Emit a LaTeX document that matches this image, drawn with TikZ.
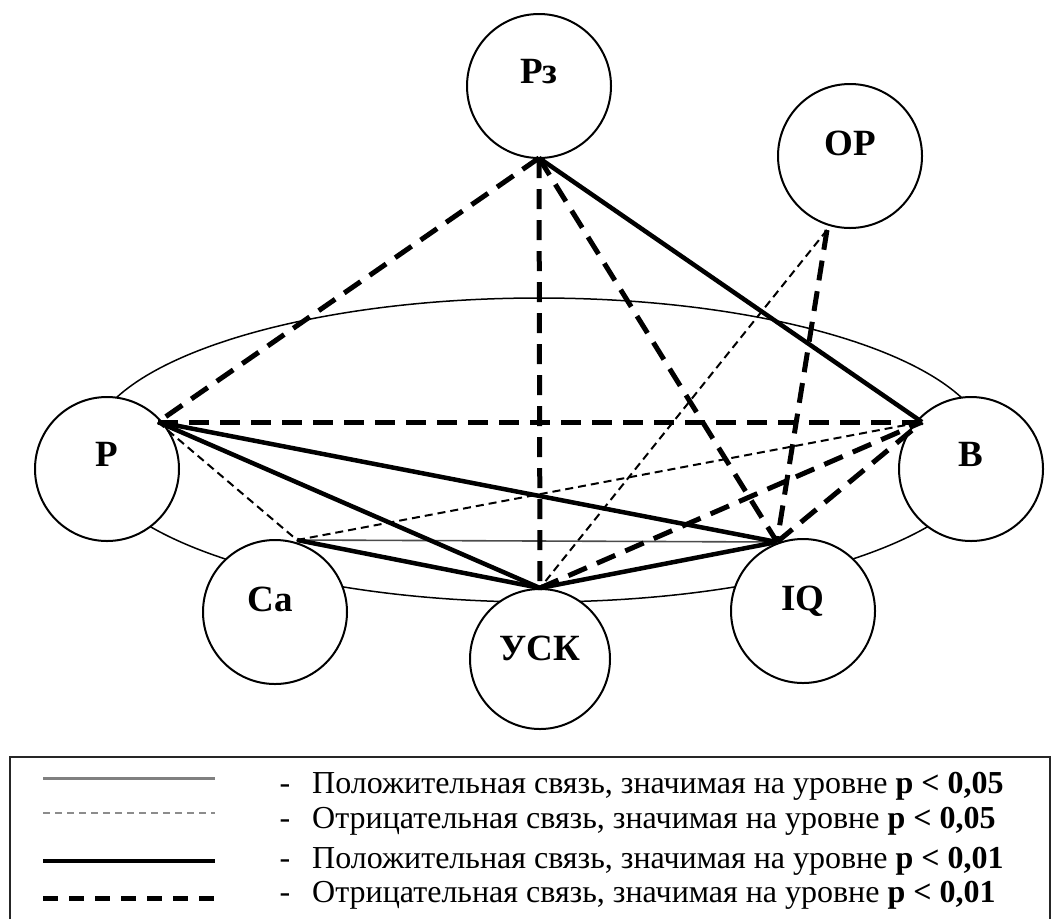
\documentclass[tikz,border=0pt]{standalone}
\usepackage{fontspec}
\setmainfont{Liberation Serif}
\begin{document}
\begin{tikzpicture}[x=1pt,y=-1pt,
  circ/.style={circle, draw, line width=2pt, fill=white, minimum size=144pt, inner sep=0pt},
  lab/.style={font=\fontsize{37}{42}\selectfont\bfseries, inner sep=0pt, anchor=base},
  posA/.style={line width=1.6pt, draw=black!70},
  negA/.style={line width=2pt, dash pattern=on 8pt off 5pt},
  posB/.style={line width=4.5pt},
  negB/.style={line width=5pt, dash pattern=on 20pt off 11pt},
  legtxt/.style={font=\fontsize{32}{38}\selectfont, inner sep=0pt, anchor=base west},
  legdash/.style={font=\fontsize{32}{38}\selectfont, inner sep=0pt, anchor=base}
]
\useasboundingbox (0,0) rectangle (1056,919);

% big ellipse
\draw[line width=1.5pt] (539,450) ellipse [x radius=450, y radius=152];

% circles
\node[circ] (Rz)  at (539,86)  {};
\node[circ] (OR)  at (850,156) {};
\node[circ] (R)   at (107,469) {};
\node[circ] (B)   at (971,469) {};
\node[circ] (Ca)  at (275,612) {};
\node[circ, minimum size=140pt] (USK) at (540,659) {};
\node[circ] (IQ)  at (803,611) {};

% labels
\node[lab] (tRz)  at ([yshift=3pt]Rz.center)  {Рз};
\node[lab] (tOR)  at ([yshift=1pt]OR.center)  {ОР};
\node[lab] (tR)   at ([yshift=3pt]R.center)   {Р};
\node[lab] (tB)   at ([yshift=3pt]B.center)   {В};
\node[lab] (tCa)  at ([xshift=-5pt,yshift=1pt]Ca.center)  {Ca};
\node[lab] (tUSK) at ([yshift=-1pt]USK.center) {УСК};
\node[lab] (tIQ)  at ([yshift=1pt]IQ.center)  {IQ};

% connection points
\coordinate (pRz)  at (539,158);
\coordinate (pOR)  at (827,230);
\coordinate (pR)   at (158,422);
\coordinate (pB)   at (922,422);
\coordinate (pCa)  at (297,540);
\coordinate (pUSK) at (540,588);
\coordinate (pIQ)  at (777,542);

% connectors
\draw[negA] (pR) -- (pCa);
\draw[negA] (pCa) -- (pB);
\draw[negA] (pOR) -- (pUSK);
\draw[posA] (pCa) -- (pIQ);
\draw[posB] (pRz) -- (pB);
\draw[posB] (pR) -- (pIQ);
\draw[posB] (pR) -- (pUSK);
\draw[posB] (pCa) -- (pUSK);
\draw[posB] (pUSK) -- (pIQ);
\draw[negB] (pRz) -- (pR);
\draw[negB] (pRz) -- (pUSK);
\draw[negB] (pRz) -- (pIQ);
\draw[negB] (pOR) -- (pIQ);
\draw[negB] (pR) -- (pB);
\draw[negB] (pUSK) -- (pB);
\draw[negB] (pIQ) -- (pB);

% legend frame
\draw[line width=2pt, draw=black!85] (10,919) -- (10,757) -- (1050,757) -- (1050,919);

% legend samples
\draw[line width=3pt, draw=black!50] (43,778) -- (215,778);
\draw[line width=2pt, draw=black!45, dash pattern=on 7pt off 5pt] (43,813) -- (215,813);
\draw[line width=4.5pt] (43,861) -- (215,861);
\draw[line width=5pt, dash pattern=on 15pt off 11pt] (43,898) -- (215,898);

% legend texts
\node[legdash] (d1) at (285,793) {-};
\node[legtxt]  (l1) at (312,793) {Положительная связь, значимая на уровне \textbf{p < 0,05}};
\node[legdash] (d2) at (285,828) {-};
\node[legtxt]  (l2) at (312,828) {Отрицательная связь, значимая на уровне \textbf{p < 0,05}};
\node[legdash] (d3) at (285,868) {-};
\node[legtxt]  (l3) at (312,868) {Положительная связь, значимая на уровне \textbf{p < 0,01}};
\node[legdash] (d4) at (285,902) {-};
\node[legtxt]  (l4) at (312,902) {Отрицательная связь, значимая на уровне \textbf{p < 0,01}};
\end{tikzpicture}
\end{document}
